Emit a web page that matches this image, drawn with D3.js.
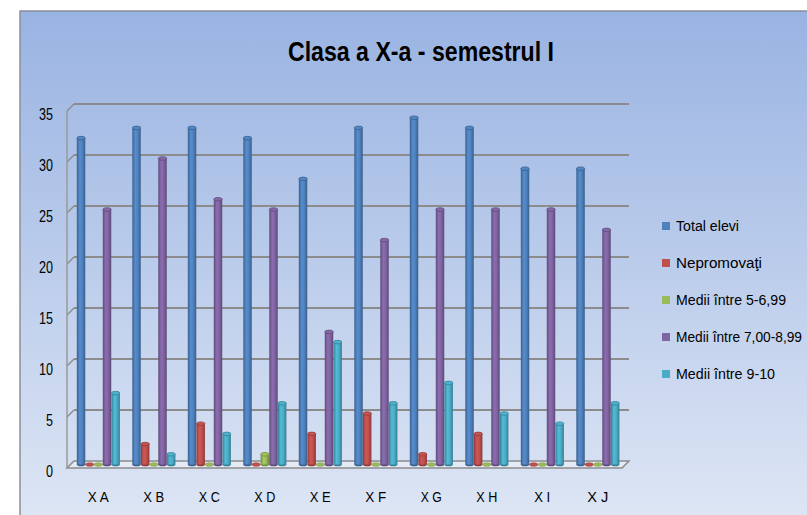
<!DOCTYPE html>
<html><head><meta charset="utf-8">
<script src="https://cdn.jsdelivr.net/npm/d3@7"></script>
<style>body{margin:0;background:#fff}svg{display:block}text{font-family:"Liberation Sans Narrow","Arial Narrow","Liberation Sans",sans-serif}</style>
</head><body>
<svg id="c" width="807" height="515"></svg>
<script>
const categories = ["X A","X B","X C","X D","X E","X F","X G","X H","X I","X J"];
const seriesNames = ["Total elevi","Nepromovaţi","Medii între 5-6,99","Medii între 7,00-8,99","Medii între 9-10"];
const totalElevi = [32,33,33,32,28,33,34,33,29,29];
const nepromovati = [0,2,4,0,3,5,1,3,0,0];
const medii5 = [0,0,0,1,0,0,0,0,0,0];
const medii7 = [25,30,26,25,13,22,25,25,25,23];
const medii9 = [7,1,3,6,12,6,8,5,4,6];
const yTicks = [0,5,10,15,20,25,30,35];
const colors = ["#4f81bd","#c0504d","#9bbb59","#8064a2","#4bacc6"];
const series = [totalElevi,nepromovati,medii5,medii7,medii9];
const legendWidths = [63,86,110,126,99];

const svg = d3.select("#c");
const defs = svg.append("defs");
const bg = defs.append("linearGradient").attr("id","bg").attr("x1",0).attr("y1",0).attr("x2",0).attr("y2",1);
bg.append("stop").attr("offset","0%").attr("stop-color","#99b3e2");
bg.append("stop").attr("offset","100%").attr("stop-color","#dfe7f5");

svg.append("rect").attr("x",20).attr("y",11).attr("width",800).attr("height",520)
  .attr("fill","url(#bg)").attr("stroke","#8a8f99").attr("stroke-width",1.5);

svg.append("text").attr("x",421).attr("y",61).attr("text-anchor","middle")
  .attr("font-size",27).attr("font-weight","bold").attr("fill","#000")
  .attr("textLength",266).attr("lengthAdjust","spacingAndGlyphs")
  .text("Clasa a X-a - semestrul I");

const x0 = 67, x1 = 622, depth = 7;
const y = d3.scaleLinear().domain([0,35]).range([468,111]);
const x = d3.scaleBand().domain(categories).range([x0,x1]).paddingInner(0.22).paddingOuter(0.11);
const xs = d3.scaleBand().domain(d3.range(5)).range([0,x.bandwidth()]).padding(0);

// floor
const floorPts = [[x0,y(0)],[x1,y(0)],[x1+depth,y(0)-depth],[x0+depth,y(0)-depth]];
svg.append("polygon").attr("points",floorPts.map(p=>p.join(",")).join(" "))
  .attr("fill","#e4eaf6").attr("stroke","#8c8c8c").attr("stroke-width",1.5);

// gridlines (back wall + side wall diagonal)
const grid = svg.append("g");
yTicks.filter(t=>t>0).forEach(t=>{
  grid.append("line").attr("x1",x0+depth).attr("x2",x1+depth).attr("y1",y(t)-depth).attr("y2",y(t)-depth)
    .attr("stroke","#8c8c8c").attr("stroke-width",2);
  grid.append("line").attr("x1",x0).attr("x2",x0+depth).attr("y1",y(t)).attr("y2",y(t)-depth)
    .attr("stroke","#8c8c8c").attr("stroke-width",1.5);
});
grid.append("line").attr("x1",x0).attr("x2",x0).attr("y1",y(35)).attr("y2",y(0))
  .attr("stroke","#9a9a9a").attr("stroke-width",1.5);

// y axis labels
svg.append("g").selectAll("text").data(yTicks).join("text")
  .attr("x",53).attr("y",d=>y(d)+3).attr("dy","0.35em").attr("text-anchor","end")
  .attr("font-size",16).attr("fill","#000")
  .attr("textLength",d=>String(d).length*7).attr("lengthAdjust","spacingAndGlyphs")
  .text(d=>d);

// x labels
svg.append("g").selectAll("text").data(categories).join("text")
  .attr("x",d=>x(d)+x.bandwidth()/2+3.5).attr("y",497).attr("dy","0.35em").attr("text-anchor","middle")
  .attr("font-size",15).attr("fill","#000")
  .attr("textLength",d=>d==="X I"?16:21).attr("lengthAdjust","spacingAndGlyphs").text(d=>d);

// cylinder gradients
colors.forEach((c,i)=>{
  const g = defs.append("linearGradient").attr("id","cg"+i).attr("x1",0).attr("x2",1).attr("y1",0).attr("y2",0);
  const col = d3.color(c);
  g.append("stop").attr("offset","0%").attr("stop-color",col.darker(0.8));
  g.append("stop").attr("offset","35%").attr("stop-color",col.brighter(0.25));
  g.append("stop").attr("offset","65%").attr("stop-color",col);
  g.append("stop").attr("offset","100%").attr("stop-color",col.darker(0.9));
});

const bars = svg.append("g");
const base = y(0) - depth/2;
categories.forEach((cat,ci)=>{
  series.forEach((vals,si)=>{
    const v = vals[ci];
    const bx = x(cat) + xs(si) + depth/2 + 0.2;
    const bw = xs.bandwidth() - 0.2;
    const top = y(v) - depth/2;
    const cx = bx + bw/2, rx = bw/2, ry = 1.8;
    const col = d3.color(colors[si]);
    const g = bars.append("g");
    if (v > 0) {
      g.append("ellipse").attr("cx",cx).attr("cy",base).attr("rx",rx).attr("ry",ry).attr("fill",col.darker(0.8));
      g.append("rect").attr("x",bx).attr("y",top).attr("width",bw).attr("height",base-top).attr("fill","url(#cg"+si+")");
      g.append("ellipse").attr("cx",cx).attr("cy",top).attr("rx",rx).attr("ry",ry)
        .attr("fill",col.brighter(0.1)).attr("stroke",col.darker(0.8)).attr("stroke-width",0.8);
    } else {
      g.append("ellipse").attr("cx",cx).attr("cy",base).attr("rx",rx).attr("ry",ry)
        .attr("fill",col).attr("stroke",col.darker(0.5)).attr("stroke-width",0.6);
    }
  });
});

// legend
const lg = svg.append("g");
seriesNames.forEach((n,i)=>{
  const ly = 226 + i*37;
  lg.append("rect").attr("x",662).attr("y",ly-4).attr("width",8).attr("height",8).attr("fill",colors[i]);
  lg.append("text").attr("x",676).attr("y",ly).attr("dy","0.35em").attr("font-size",14).attr("fill","#000")
    .attr("textLength",legendWidths[i]).attr("lengthAdjust","spacingAndGlyphs").text(n);
});
</script>
</body></html>
